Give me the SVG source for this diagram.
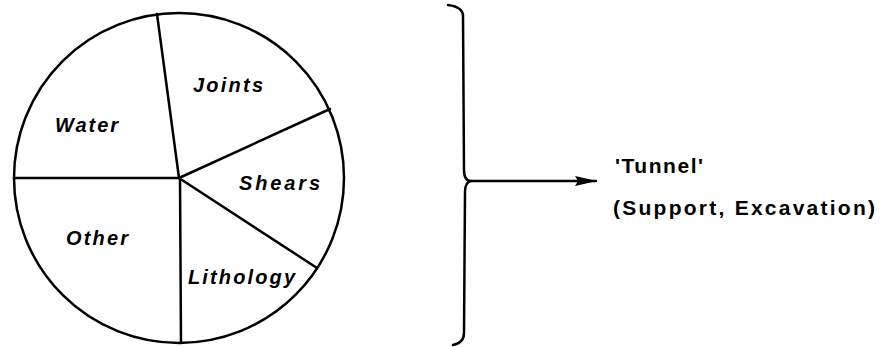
<svg xmlns="http://www.w3.org/2000/svg" width="882" height="347" viewBox="0 0 882 347">
<defs>
<style>
.ln{fill:none;stroke:#000;stroke-width:2.5;stroke-linecap:round;stroke-linejoin:round}
.pl{font-family:"Liberation Sans",Arial,sans-serif;font-style:italic;font-weight:bold;font-size:20px;fill:#000}
.rt{font-family:"Liberation Sans",Arial,sans-serif;font-weight:bold;font-size:21px;fill:#000}
</style>
<marker id="ah" viewBox="0 0 22 12" refX="21" refY="6" markerWidth="22" markerHeight="12" markerUnits="userSpaceOnUse" orient="auto">
<polygon points="0,1 22,6 0,11 3,6" fill="#000"/>
</marker>
</defs>
<rect width="882" height="347" fill="#fff"/>
<g id="pie">
<circle class="ln" cx="179" cy="178" r="165"/>
</g>
<g id="connectors">
<line class="ln" x1="179" y1="178" x2="157" y2="14"/>
<line class="ln" x1="179" y1="178" x2="330" y2="109"/>
<line class="ln" x1="179" y1="178" x2="317" y2="268"/>
<line class="ln" x1="180" y1="178" x2="181" y2="343"/>
<line class="ln" x1="179" y1="178" x2="14" y2="178"/>
<path class="ln" d="M448,5 Q463,7 463,16 L464,170 Q464,181 471,181 Q465,182 465,192 L464,333 Q464,343 453,345"/>
<line class="ln" x1="471" y1="181" x2="596" y2="181" marker-end="url(#ah)"/>
</g>
<g id="joints"><text class="pl" x="193" y="92" textLength="70" lengthAdjust="spacing">Joints</text></g>
<g id="water"><text class="pl" x="55" y="132" textLength="63" lengthAdjust="spacing">Water</text></g>
<g id="shears"><text class="pl" x="239" y="190" textLength="81" lengthAdjust="spacing">Shears</text></g>
<g id="other"><text class="pl" x="66" y="245" textLength="62" lengthAdjust="spacing">Other</text></g>
<g id="lithology"><text class="pl" x="188" y="284" textLength="107" lengthAdjust="spacing">Lithology</text></g>
<g id="tunnel">
<text class="rt" x="615" y="173" textLength="88" lengthAdjust="spacing">'Tunnel'</text>
<text class="rt" x="613" y="215" textLength="262" lengthAdjust="spacing">(Support, Excavation)</text>
</g>
</svg>
